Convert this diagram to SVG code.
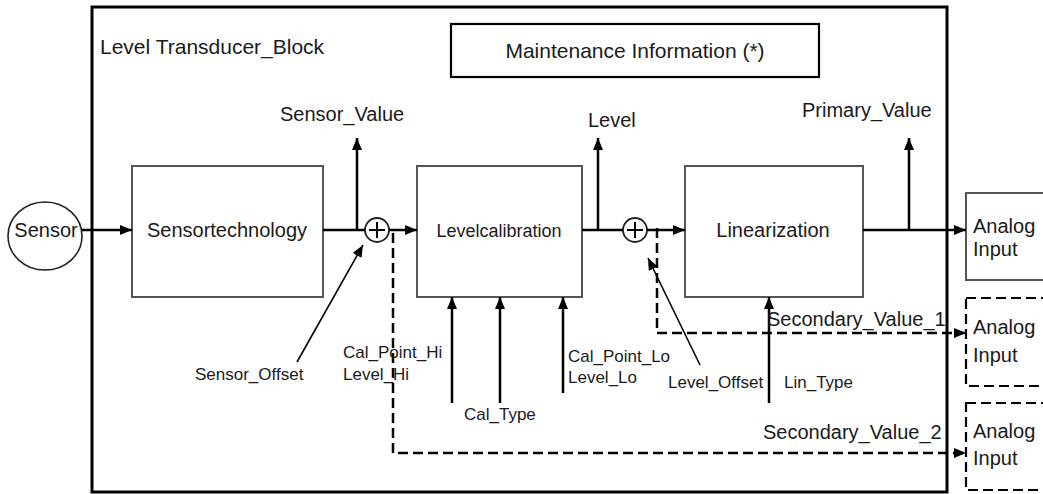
<svg xmlns="http://www.w3.org/2000/svg" width="1043" height="494" viewBox="0 0 1043 494">
<defs>
<marker id="ah" markerUnits="userSpaceOnUse" markerWidth="12" markerHeight="10" refX="12" refY="5" orient="auto">
<path d="M0,0 L12,5 L0,10 z" fill="#000"/>
</marker>
<style>
text{font-family:"Liberation Sans",Arial,sans-serif;fill:#1a1a1a;}
.t20{font-size:20px;}
.t17{font-size:17px;}
.t21{font-size:21px;}
.t18{font-size:18px;}
.box{fill:#fff;stroke:#555;stroke-width:2;}
.dbox{fill:#fff;stroke:#000;stroke-width:2.2;stroke-dasharray:10 5;}
.ln{fill:none;stroke:#000;stroke-width:2.5;}
.thin{fill:none;stroke:#000;stroke-width:1.6;}
.dash{fill:none;stroke:#000;stroke-width:2.5;stroke-dasharray:10 5;}
.sum{fill:#fff;stroke:#222;stroke-width:1.8;}
</style>
</defs>
<rect width="1043" height="494" fill="#fff"/>

<g id="outer">
<rect x="92" y="7" width="855" height="485" fill="none" stroke="#000" stroke-width="3"/>
<text class="t21" x="100" y="54">Level Transducer_Block</text>
</g>

<g id="maintenance">
<rect x="451" y="24" width="368" height="53" fill="#fff" stroke="#000" stroke-width="2.2"/>
<text class="t21" x="635" y="58" text-anchor="middle">Maintenance Information (*)</text>
</g>

<g id="sensor">
<ellipse cx="45" cy="236" rx="37" ry="34" fill="#fff" stroke="#222" stroke-width="1.6"/>
<text class="t20" x="46" y="237" text-anchor="middle">Sensor</text>
</g>

<g id="sensortechnology">
<rect class="box" x="132" y="166" width="191" height="131"/>
<text class="t20" x="227" y="237" text-anchor="middle">Sensortechnology</text>
</g>

<g id="levelcalibration">
<rect class="box" x="417" y="166" width="165" height="131"/>
<text class="t18" x="499" y="237" text-anchor="middle">Levelcalibration</text>
</g>

<g id="linearization">
<rect class="box" x="685" y="166" width="178" height="131"/>
<text class="t20" x="773" y="237" text-anchor="middle">Linearization</text>
</g>

<g id="sum1">
<circle class="sum" cx="377" cy="230" r="12"/>
<path d="M369,230 H385 M377,222 V238" stroke="#000" stroke-width="2" fill="none"/>
</g>

<g id="sum2">
<circle class="sum" cx="635" cy="230" r="12"/>
<path d="M627,230 H643 M635,222 V238" stroke="#000" stroke-width="2" fill="none"/>
</g>

<g id="analog1">
<rect class="box" x="966" y="193" width="90" height="87"/>
<text class="t20" x="973" y="233">Analog</text>
<text class="t20" x="973" y="256">Input</text>
</g>

<g id="analog2">
<rect class="dbox" x="966" y="298" width="90" height="88"/>
<text class="t20" x="973" y="334">Analog</text>
<text class="t20" x="973" y="362">Input</text>
</g>

<g id="analog3">
<rect class="dbox" x="966" y="403" width="90" height="87"/>
<text class="t20" x="973" y="438">Analog</text>
<text class="t20" x="973" y="465">Input</text>
</g>

<g id="connectors">
<path class="ln" d="M82,230 H132" marker-end="url(#ah)"/>
<path class="ln" d="M323,230 H365"/>
<path class="ln" d="M357,230 V138" marker-end="url(#ah)"/>
<path class="ln" d="M389,230 H417" marker-end="url(#ah)"/>
<path class="ln" d="M582,230 H623"/>
<path class="ln" d="M598,230 V138" marker-end="url(#ah)"/>
<path class="ln" d="M647,230 H685" marker-end="url(#ah)"/>
<path class="ln" d="M863,230 H966" marker-end="url(#ah)"/>
<path class="ln" d="M909,230 V138" marker-end="url(#ah)"/>
<path class="ln" d="M452,403 V297" marker-end="url(#ah)"/>
<path class="ln" d="M500,403 V297" marker-end="url(#ah)"/>
<path class="ln" d="M563,393 V297" marker-end="url(#ah)"/>
<path class="ln" d="M769,403 V297" marker-end="url(#ah)"/>
<path class="thin" d="M297,362 L363,245" marker-end="url(#ah)"/>
<path class="thin" d="M700,365 L648,258" marker-end="url(#ah)"/>
<path class="dash" d="M393,233 V453 H966" marker-end="url(#ah)"/>
<path class="dash" d="M657,228 V333 H966" marker-end="url(#ah)"/>
</g>

<g id="labels">
<text class="t20" x="280" y="121">Sensor_Value</text>
<text class="t20" x="588" y="127">Level</text>
<text class="t20" x="802" y="117">Primary_Value</text>
<text class="t17" x="195" y="380">Sensor_Offset</text>
<text class="t17" x="343" y="358">Cal_Point_Hi</text>
<text class="t17" x="343" y="380">Level_Hi</text>
<text class="t17" x="464" y="420">Cal_Type</text>
<text class="t17" x="568" y="362">Cal_Point_Lo</text>
<text class="t17" x="568" y="383">Level_Lo</text>
<text class="t17" x="668" y="388">Level_Offset</text>
<text class="t17" x="784" y="388">Lin_Type</text>
<text class="t20" x="767" y="326">Secondary_Value_1</text>
<text class="t20" x="763" y="439">Secondary_Value_2</text>
</g>
</svg>
